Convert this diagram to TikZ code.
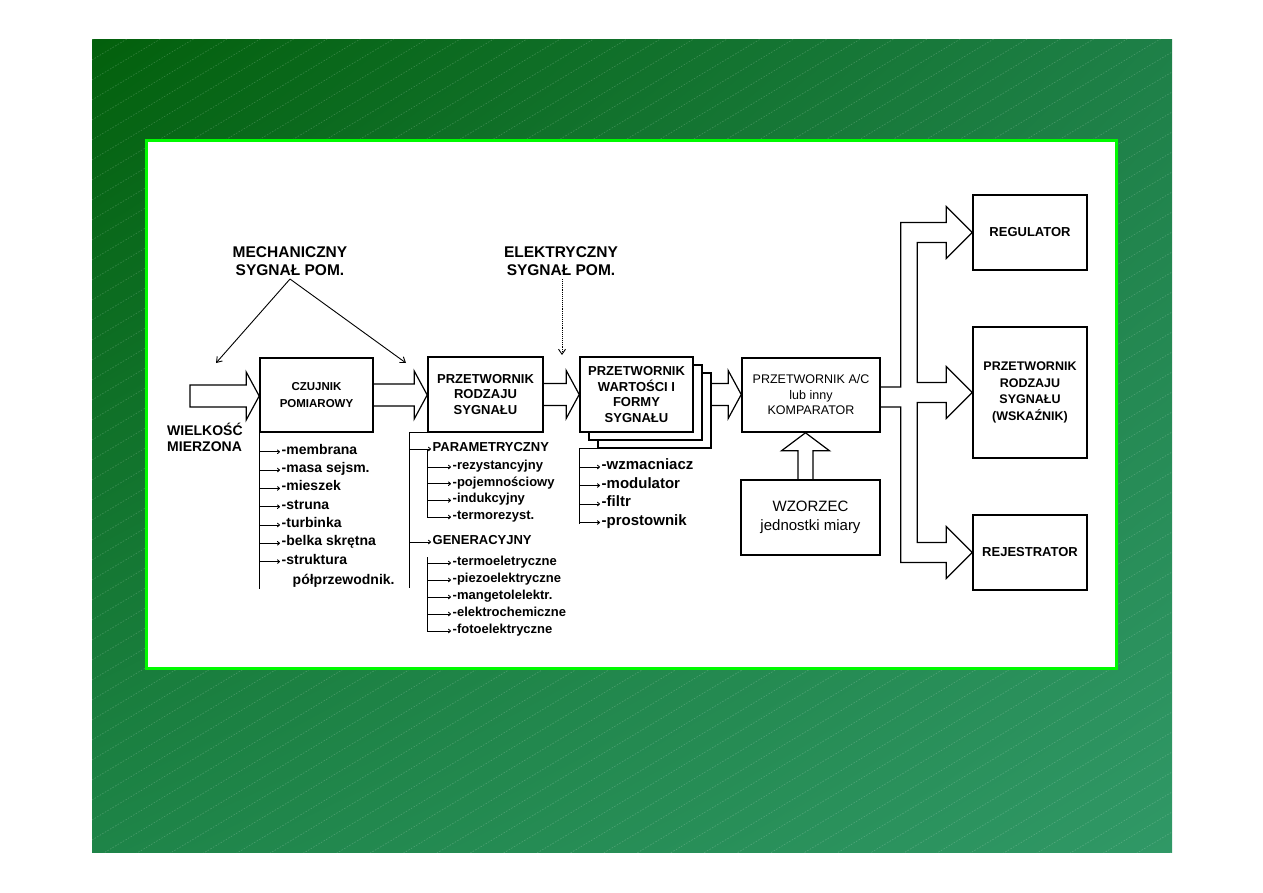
\documentclass[tikz,border=0pt]{standalone}
\usepackage{xcolor}
\definecolor{SlideDark}{RGB}{3,96,12}
\definecolor{SlideTopR}{RGB}{30,128,72}
\definecolor{SlideBotL}{RGB}{30,132,72}
\definecolor{SlideLight}{RGB}{48,152,102}
\definecolor{PanelGreen}{RGB}{0,250,0}
\usepackage{fontspec}
\setmainfont{Liberation Sans}
\usepackage{tikz}
\usetikzlibrary{arrows.meta,positioning,calc,shadings}

% szeroka strzalka pozioma: [zamkniecie]{poczatek}{grot}
\newcommand{\widearrow}[3][]{%
  \draw[gruba] let \p1=#2, \p2=#3 in
    (\x1,\y1+11pt) -- (\x2-13pt,\y1+11pt) -- (\x2-13pt,\y1+24pt) -- (\x2,\y1)
    -- (\x2-13pt,\y1-24pt) -- (\x2-13pt,\y1-11pt) -- (\x1,\y1-11pt) #1;}

\begin{document}
\begin{tikzpicture}[x=1pt,y=-1pt,
  blok/.style={draw,line width=1.6pt,fill=white,inner sep=0pt,align=center,
    font=\bfseries\fontsize{13}{15.5}\selectfont},
  gruba/.style={line width=1.2pt},
  linia/.style={line width=1pt},
  strzalka/.style={line width=0.9pt,-{To[length=3pt,width=4.5pt]}},
  cienka/.style={line width=0.9pt,-{Straight Barb[length=5pt,width=7pt]}},
  pozycja/.style={anchor=west,inner sep=1.5pt,text height=0.7em,text depth=0.2em,
    font=\bfseries\fontsize{14}{16}\selectfont},
  podpozycja/.style={pozycja,font=\bfseries\fontsize{13}{15}\selectfont},
  tytul/.style={align=center,font=\bfseries\fontsize{15.5}{18}\selectfont}]
  \useasboundingbox (0,0) rectangle (1263,893);

  % tlo slajdu
  \shade[upper left=SlideDark,upper right=SlideTopR,lower left=SlideBotL,lower right=SlideLight]
    (92,40) rectangle (1172,852);
  \begin{scope}
    \clip (92,40) rectangle (1172,852);
    \foreach \k in {0,...,76}
      \draw[white,opacity=0.2,line width=0.6pt,dash pattern=on 1.5pt off 1.5pt]
        (92,40+20*\k) -- ++(1100,-660);
  \end{scope}
  \draw[PanelGreen,line width=3pt,fill=white] (146.5,140.5) rectangle (1116.5,668.5);

  % bloki
  \node[blok,minimum width=113,minimum height=74,font=\bfseries\fontsize{11.5}{17}\selectfont]
    (czujnik) at (316.5,395) {CZUJNIK\\POMIAROWY};
  \node[blok,minimum width=115,minimum height=75] (rodzaj) at (485.5,394.5) {PRZETWORNIK\\RODZAJU\\SYGNAŁU};
  \node[blok,minimum width=113,minimum height=75] (wart3) at (654.5,410.5) {};
  \node[blok,minimum width=113,minimum height=75] (wart2) at (645.5,402.5) {};
  \node[blok,minimum width=113,minimum height=75] (wart) at (636.5,394.5) {PRZETWORNIK\\WARTOŚCI I\\FORMY\\SYGNAŁU};
  \node[blok,minimum width=138,minimum height=74,font=\fontsize{12.5}{15.5}\selectfont]
    (komparator) at (811,395) {PRZETWORNIK A/C\\lub inny\\KOMPARATOR};
  \node[blok,minimum width=139,minimum height=75,font=\fontsize{15}{19}\selectfont]
    (wzorzec) at (810.5,517.5) {WZORZEC\\jednostki miary};
  \node[blok,minimum width=114,minimum height=75] (regulator) at (1030,232.5) {REGULATOR};
  \node[blok,minimum width=114,minimum height=131,font=\bfseries\fontsize{12.5}{16.7}\selectfont]
    (wskaznik) at (1030,392.5) {PRZETWORNIK\\RODZAJU\\SYGNAŁU\\(WSKAŹNIK)};
  \node[blok,minimum width=114,minimum height=75] (rejestrator) at (1030,552.5) {REJESTRATOR};

  % opisy
  \node[tytul] (mech) at (290,261) {MECHANICZNY\\SYGNAŁ POM.};
  \node[tytul] (elek) at (561,261) {ELEKTRYCZNY\\SYGNAŁ POM.};
  \node[anchor=north west,inner sep=0pt,align=left,font=\bfseries\fontsize{14}{16}\selectfont]
    (wielkosc) at (167,423) {WIELKOŚĆ\\MIERZONA};
  \coordinate (mechL) at (216,363);
  \coordinate (mechP) at (406,363);
  \coordinate (elekK) at (562,355);
  \draw[cienka] (mech.south) -- (mechL);
  \draw[cienka] (mech.south) -- (mechP);
  \draw[cienka,densely dotted] (elek.south -| elekK) -- (elekK);

  % szerokie strzalki
  \coordinate (wejscie) at (190,396);
  \widearrow[-- cycle]{(wejscie)}{(czujnik.west)}
  \widearrow{(czujnik.east)}{(rodzaj.west)}
  \widearrow{(rodzaj.east)}{(wart.west)}
  \widearrow{(wart3.east |- wart.east)}{(komparator.west)}
  \draw[gruba] let \p1=($(wzorzec.north)+(-5,0)$), \p2=(komparator.south) in
    (\x1-7.5pt,\y1) -- (\x1-7.5pt,\y2-18pt) -- (\x1-24pt,\y2-18pt) -- (\x1,\y2)
    -- (\x1+24pt,\y2-18pt) -- (\x1+7.5pt,\y2-18pt) -- (\x1+7.5pt,\y1);
  \draw[gruba] ($(komparator.east)+(0,-8)$) -- ++(20,0)
    |- ($(regulator.west)+(-26,-10)$) -- ++(0,-16) -- (regulator.west) -- ++(-26,26) -- ++(0,-16)
    -- ++(-29,0)
    |- ($(wskaznik.west)+(-26,-10)$) -- ++(0,-16) -- (wskaznik.west) -- ++(-26,26) -- ++(0,-16)
    -- ++(-29,0)
    |- ($(rejestrator.west)+(-26,-10)$) -- ++(0,-16) -- (rejestrator.west) -- ++(-26,26) -- ++(0,-16)
    -| ($(komparator.east)+(20,12)$) -- ($(komparator.east)+(0,12)$);

  % lista czujnikow
  \foreach \t [count=\i] in {-membrana,-masa sejsm.,-mieszek,-struna,-turbinka,-belka skrętna,-struktura}
    \node[pozycja] (cz\i) at (280,433.5+18.3*\i) {\t};
  \node[pozycja] (cz8) at (291,582) {półprzewodnik.};
  \draw[linia] (czujnik.south west) -- ++(0,156);
  \foreach \i in {1,...,7}
    \draw[strzalka] (czujnik.south west |- cz\i.west) -- (cz\i.west);

  % lista przetwornikow rodzaju
  \coordinate (lewa) at ($(rodzaj.south west)+(-18,0)$);
  \draw[linia] (rodzaj.south west) -- (lewa) -- ++(0,155);
  \node[pozycja,font=\bfseries\fontsize{13}{15}\selectfont] (par) at (431,449) {PARAMETRYCZNY};
  \node[pozycja,font=\bfseries\fontsize{13}{15}\selectfont] (gen) at (431,542) {GENERACYJNY};
  \draw[strzalka] (lewa |- par.west) -- (par.west);
  \draw[strzalka] (lewa |- gen.west) -- (gen.west);
  \foreach \t [count=\i] in {-rezystancyjny,-pojemnościowy,-indukcyjny,-termorezyst.}
    \node[podpozycja] (p\i) at (451,450.3+16.7*\i) {\t};
  \coordinate (parpion) at (427,449);
  \draw[linia] (parpion) -- (parpion |- p4.west);
  \foreach \i in {1,...,4}
    \draw[strzalka] (parpion |- p\i.west) -- (p\i.west);
  \foreach \t [count=\i] in {-termoeletryczne,-piezoelektryczne,-mangetolelektr.,-elektrochemiczne,-fotoelektryczne}
    \node[podpozycja] (g\i) at (451,546+17*\i) {\t};
  \coordinate (genpion) at (427,557);
  \draw[linia] (genpion) -- (genpion |- g5.west);
  \foreach \i in {1,...,5}
    \draw[strzalka] (genpion |- g\i.west) -- (g\i.west);

  % lista ukladow obrobki
  \coordinate (prawa) at ($(wart3.south west)+(-18,0)$);
  \draw[linia] (wart3.south west) -- (prawa) -- ++(0,75);
  \foreach \t [count=\i] in {-wzmacniacz,-modulator,-filtr,-prostownik}
    \node[pozycja,font=\bfseries\fontsize{15}{17}\selectfont] (w\i) at (600,448.5+18.5*\i) {\t};
  \foreach \i in {1,...,4}
    \draw[strzalka] (prawa |- w\i.west) -- (w\i.west);
\end{tikzpicture}
\end{document}
